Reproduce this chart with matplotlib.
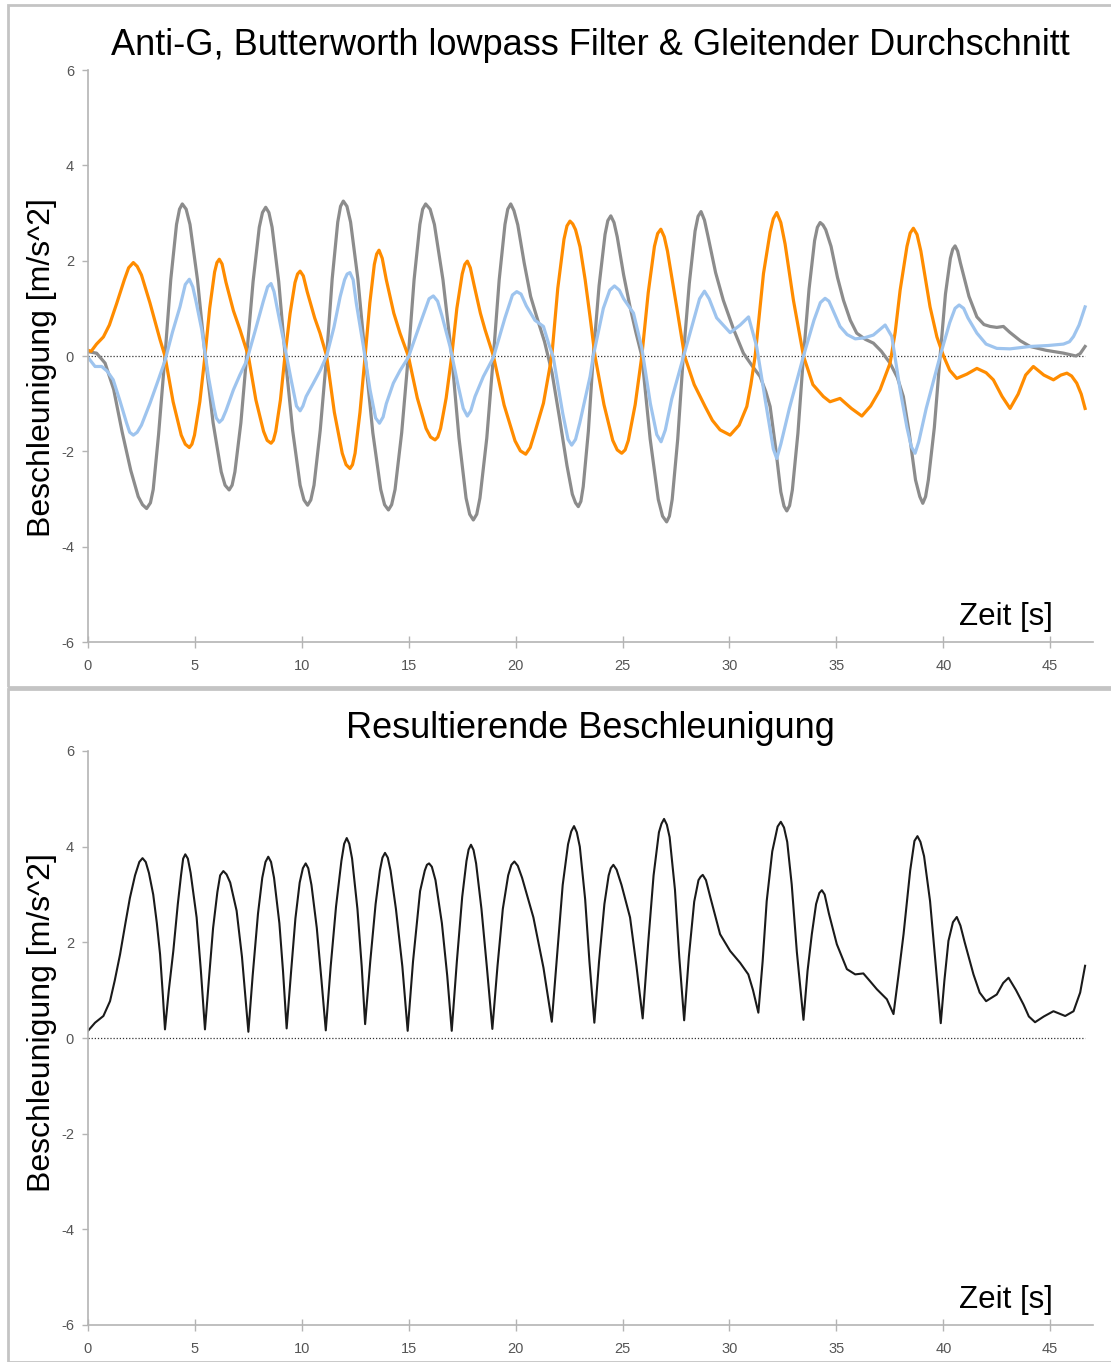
import matplotlib
matplotlib.use('Agg')
import matplotlib.pyplot as plt
from matplotlib.patches import Rectangle

plt.rcParams['font.family'] = ['Liberation Sans', 'DejaVu Sans']
plt.rcParams['axes.unicode_minus'] = False

# (time [s], acceleration [m/s^2])
grey = [(0.0, 0.09), (0.4, 0.06), (0.8, -0.15), (1.2, -0.7), (1.6, -1.6), (2.0, -2.4), (2.35, -2.95),
        (2.55, -3.12), (2.74, -3.2), (2.92, -3.08), (3.05, -2.8), (3.3, -1.65), (3.6, 0.0), (3.87, 1.6),
        (4.14, 2.76), (4.28, 3.08), (4.41, 3.19), (4.59, 3.08), (4.77, 2.76), (5.12, 1.6), (5.48, 0.0),
        (5.85, -1.4), (6.23, -2.43), (6.41, -2.71), (6.6, -2.81), (6.74, -2.71), (6.87, -2.43),
        (7.15, -1.4), (7.42, 0.0), (7.72, 1.56), (8.01, 2.7), (8.16, 3.01), (8.31, 3.12), (8.46, 3.01),
        (8.61, 2.7), (8.92, 1.56), (9.22, 0.0), (9.57, -1.56), (9.92, -2.71), (10.1, -3.02),
        (10.27, -3.13), (10.42, -3.02), (10.57, -2.71), (10.86, -1.56), (11.16, 0.0), (11.42, 1.62),
        (11.68, 2.81), (11.81, 3.14), (11.94, 3.25), (12.11, 3.14), (12.28, 2.81), (12.62, 1.62),
        (12.96, 0.0), (13.32, -1.61), (13.69, -2.8), (13.87, -3.12), (14.05, -3.23), (14.2, -3.12),
        (14.36, -2.8), (14.67, -1.61), (14.98, 0.0), (15.25, 1.6), (15.52, 2.76), (15.65, 3.08),
        (15.79, 3.19), (16.0, 3.08), (16.2, 2.76), (16.6, 1.6), (17.01, 0.0), (17.35, -1.72),
        (17.68, -2.98), (17.85, -3.32), (18.02, -3.44), (18.18, -3.32), (18.33, -2.98), (18.65, -1.72),
        (18.96, 0.0), (19.23, 1.6), (19.5, 2.76), (19.63, 3.08), (19.77, 3.19), (19.92, 3.05),
        (20.1, 2.75), (20.4, 1.95), (20.7, 1.25), (21.0, 0.8), (21.35, 0.3), (21.7, -0.35),
        (22.05, -1.3), (22.4, -2.3), (22.65, -2.9), (22.8, -3.08), (22.93, -3.16), (23.05, -3.05),
        (23.16, -2.74), (23.4, -1.58), (23.63, 0.0), (23.9, 1.47), (24.18, 2.55), (24.31, 2.84),
        (24.45, 2.94), (24.6, 2.8), (24.75, 2.5), (25.05, 1.7), (25.35, 1.03), (25.62, 0.5), (25.9, 0.0),
        (26.29, -1.74), (26.67, -3.01), (26.87, -3.36), (27.06, -3.48), (27.19, -3.36), (27.32, -3.01),
        (27.58, -1.74), (27.84, 0.0), (28.12, 1.52), (28.39, 2.62), (28.53, 2.93), (28.67, 3.03),
        (28.83, 2.85), (29.0, 2.5), (29.35, 1.75), (29.71, 1.17), (30.2, 0.55), (30.65, 0.06),
        (31.05, -0.2), (31.43, -0.43), (31.7, -0.75), (31.9, -1.06), (32.15, -1.9), (32.4, -2.85),
        (32.55, -3.15), (32.68, -3.25), (32.81, -3.14), (32.94, -2.81), (33.2, -1.62), (33.46, 0.0),
        (33.72, 1.4), (33.98, 2.42), (34.11, 2.7), (34.24, 2.8), (34.37, 2.75), (34.5, 2.65),
        (34.75, 2.3), (35.05, 1.65), (35.33, 1.17), (35.65, 0.75), (35.95, 0.48), (36.35, 0.35),
        (36.73, 0.27), (37.1, 0.1), (37.51, -0.15), (37.85, -0.45), (38.13, -0.85), (38.4, -1.6),
        (38.7, -2.6), (38.9, -2.95), (39.04, -3.09), (39.17, -2.95), (39.3, -2.6), (39.58, -1.5),
        (39.85, 0.0), (40.1, 1.3), (40.33, 2.05), (40.44, 2.24), (40.55, 2.31), (40.67, 2.2),
        (40.8, 1.95), (41.2, 1.25), (41.57, 0.82), (41.9, 0.66), (42.19, 0.62), (42.5, 0.6),
        (42.81, 0.62), (43.1, 0.5), (43.6, 0.32), (44.06, 0.2), (44.8, 0.12), (45.62, 0.06),
        (46.2, 0.0), (46.4, 0.05), (46.63, 0.2)]

orange = [(0.0, 0.12), (0.15, 0.1), (0.4, 0.25), (0.72, 0.4), (1.0, 0.65), (1.34, 1.1), (1.7, 1.6),
          (1.9, 1.85), (2.12, 1.96), (2.3, 1.88), (2.5, 1.7), (2.9, 1.11), (3.37, 0.34), (3.6, 0.0),
          (3.98, -0.96), (4.36, -1.66), (4.55, -1.85), (4.74, -1.92), (4.86, -1.85), (4.98, -1.66),
          (5.23, -0.96), (5.47, 0.0), (5.69, 1.0), (5.92, 1.76), (6.03, 1.96), (6.14, 2.03), (6.27, 1.93),
          (6.45, 1.55), (6.8, 0.95), (7.11, 0.55), (7.5, 0.0), (7.85, -0.92), (8.21, -1.58), (8.38, -1.77),
          (8.56, -1.83), (8.67, -1.77), (8.78, -1.58), (9.0, -0.92), (9.21, 0.0), (9.45, 0.89),
          (9.68, 1.54), (9.8, 1.72), (9.92, 1.78), (10.07, 1.68), (10.25, 1.35), (10.6, 0.8),
          (10.85, 0.48), (11.16, 0.0), (11.52, -1.18), (11.89, -2.04), (12.07, -2.28), (12.25, -2.36),
          (12.37, -2.28), (12.49, -2.04), (12.72, -1.18), (12.96, 0.0), (13.18, 1.11), (13.39, 1.92),
          (13.5, 2.14), (13.61, 2.22), (13.76, 2.05), (13.95, 1.6), (14.3, 0.9), (14.59, 0.48),
          (14.98, 0.0), (15.4, -0.88), (15.81, -1.52), (16.02, -1.7), (16.23, -1.76), (16.36, -1.7),
          (16.49, -1.52), (16.75, -0.88), (17.01, 0.0), (17.25, 1.0), (17.5, 1.72), (17.62, 1.92),
          (17.74, 1.99), (17.88, 1.85), (18.05, 1.5), (18.35, 0.9), (18.57, 0.55), (18.96, 0.0),
          (19.46, -1.03), (19.97, -1.78), (20.22, -1.99), (20.47, -2.06), (20.68, -1.92), (20.9, -1.6),
          (21.3, -0.99), (21.69, 0.0), (21.97, 1.42), (22.26, 2.45), (22.4, 2.73), (22.54, 2.83),
          (22.67, 2.77), (22.8, 2.65), (23.01, 2.29), (23.25, 1.6), (23.48, 0.82), (23.71, 0.0),
          (24.13, -1.02), (24.54, -1.77), (24.75, -1.97), (24.96, -2.04), (25.12, -1.97), (25.27, -1.77),
          (25.59, -1.02), (25.9, 0.0), (26.2, 1.33), (26.49, 2.3), (26.64, 2.57), (26.79, 2.66),
          (26.95, 2.5), (27.1, 2.2), (27.53, 1.03), (27.9, 0.0), (28.35, -0.6), (28.86, -1.06),
          (29.2, -1.35), (29.56, -1.55), (30.03, -1.66), (30.45, -1.45), (30.81, -1.06), (31.0, -0.6),
          (31.2, 0.0), (31.59, 1.73), (31.9, 2.6), (32.05, 2.88), (32.21, 3.01), (32.4, 2.8),
          (32.6, 2.35), (32.99, 1.17), (33.46, 0.0), (33.9, -0.6), (34.39, -0.85), (34.7, -0.96),
          (35.17, -0.89), (35.7, -1.1), (36.19, -1.26), (36.6, -1.05), (37.04, -0.71), (37.51, -0.15),
          (37.75, 0.5), (37.98, 1.38), (38.3, 2.3), (38.45, 2.58), (38.6, 2.68), (38.77, 2.55),
          (38.95, 2.2), (39.38, 1.03), (39.7, 0.4), (40.01, 0.0), (40.3, -0.3), (40.63, -0.47),
          (41.1, -0.38), (41.57, -0.26), (42.0, -0.35), (42.34, -0.5), (42.75, -0.85), (43.12, -1.1),
          (43.5, -0.8), (43.85, -0.4), (44.21, -0.22), (44.7, -0.4), (45.15, -0.5), (45.5, -0.4),
          (45.78, -0.36), (46.0, -0.42), (46.24, -0.57), (46.45, -0.8), (46.63, -1.1)]

blue = [(0.0, -0.03), (0.33, -0.22), (0.64, -0.22), (0.9, -0.32), (1.18, -0.5), (1.5, -0.95), (1.8, -1.4),
        (1.95, -1.6), (2.12, -1.66), (2.3, -1.6), (2.5, -1.45), (2.9, -0.99), (3.25, -0.55), (3.6, -0.1),
        (3.95, 0.5), (4.3, 1.03), (4.55, 1.5), (4.74, 1.61), (4.9, 1.45), (5.05, 1.15), (5.32, 0.55),
        (5.63, -0.43), (5.9, -1.1), (6.0, -1.3), (6.14, -1.39), (6.28, -1.33), (6.45, -1.15),
        (6.8, -0.71), (7.1, -0.4), (7.42, -0.1), (7.8, 0.5), (8.2, 1.15), (8.4, 1.45), (8.56, 1.52),
        (8.7, 1.35), (8.85, 1.0), (9.14, 0.34), (9.5, -0.5), (9.75, -1.05), (9.92, -1.15), (10.05, -1.05),
        (10.2, -0.85), (10.54, -0.57), (10.86, -0.3), (11.16, 0.0), (11.5, 0.6), (11.79, 1.24),
        (12.0, 1.6), (12.12, 1.72), (12.25, 1.75), (12.4, 1.6), (12.55, 1.1), (12.88, 0.2),
        (13.19, -0.71), (13.45, -1.3), (13.63, -1.41), (13.8, -1.28), (13.95, -1.0), (14.28, -0.57),
        (14.6, -0.3), (14.98, -0.03), (15.55, 0.7), (15.95, 1.2), (16.15, 1.26), (16.35, 1.15),
        (16.55, 0.85), (16.93, 0.2), (17.3, -0.6), (17.55, -1.1), (17.74, -1.26), (17.9, -1.15),
        (18.1, -0.85), (18.49, -0.43), (18.96, -0.03), (19.5, 0.8), (19.85, 1.28), (20.05, 1.35),
        (20.25, 1.3), (20.5, 1.05), (20.9, 0.75), (21.3, 0.62), (21.55, 0.25), (21.76, -0.03),
        (22.2, -1.2), (22.45, -1.75), (22.62, -1.87), (22.8, -1.75), (23.0, -1.4), (23.48, -0.43),
        (23.63, 0.0), (24.1, 1.0), (24.4, 1.38), (24.62, 1.47), (24.85, 1.38), (25.05, 1.2),
        (25.51, 0.9), (25.9, 0.17), (26.3, -1.0), (26.6, -1.65), (26.8, -1.8), (27.0, -1.55),
        (27.3, -0.9), (27.84, -0.03), (28.35, 0.8), (28.6, 1.2), (28.83, 1.36), (29.05, 1.2),
        (29.4, 0.8), (30.03, 0.49), (30.5, 0.65), (30.89, 0.82), (31.27, 0.2), (31.7, -1.0),
        (32.05, -1.95), (32.21, -2.15), (32.4, -1.85), (32.8, -1.1), (33.46, 0.0), (33.95, 0.75),
        (34.25, 1.12), (34.47, 1.21), (34.65, 1.15), (34.8, 1.0), (35.17, 0.62), (35.5, 0.45),
        (35.88, 0.36), (36.3, 0.38), (36.73, 0.44), (37.28, 0.65), (37.59, 0.41), (37.98, -0.71),
        (38.3, -1.5), (38.5, -1.9), (38.68, -2.04), (38.85, -1.8), (39.2, -1.1), (39.85, 0.0),
        (40.3, 0.7), (40.55, 1.0), (40.74, 1.07), (40.95, 1.0), (41.15, 0.8), (41.57, 0.48),
        (42.0, 0.25), (42.5, 0.16), (43.12, 0.15), (44.06, 0.2), (44.9, 0.22), (45.62, 0.25),
        (45.9, 0.3), (46.09, 0.41), (46.35, 0.65), (46.63, 1.03)]

resultant = [(0.0, 0.15), (0.33, 0.32), (0.72, 0.46), (1.03, 0.77), (1.25, 1.2), (1.5, 1.75), (1.75, 2.4),
             (1.96, 2.93), (2.2, 3.4), (2.4, 3.68), (2.55, 3.76), (2.7, 3.68), (2.85, 3.45), (3.05, 3.0),
             (3.22, 2.4), (3.37, 1.75), (3.5, 0.9), (3.6, 0.18), (3.78, 1.0), (3.99, 1.82), (4.2, 2.8),
             (4.35, 3.4), (4.45, 3.75), (4.55, 3.84), (4.67, 3.75), (4.8, 3.45), (5.08, 2.52), (5.28, 1.4),
             (5.47, 0.18), (5.65, 1.2), (5.85, 2.3), (6.05, 3.05), (6.18, 3.4), (6.33, 3.49), (6.48, 3.42),
             (6.65, 3.25), (6.95, 2.66), (7.2, 1.7), (7.5, 0.13), (7.7, 1.3), (7.95, 2.6), (8.15, 3.35),
             (8.3, 3.68), (8.43, 3.79), (8.56, 3.68), (8.7, 3.35), (8.95, 2.4), (9.12, 1.4), (9.29, 0.2),
             (9.5, 1.4), (9.7, 2.5), (9.9, 3.25), (10.05, 3.55), (10.18, 3.65), (10.3, 3.55), (10.45, 3.2),
             (10.7, 2.3), (10.92, 1.2), (11.12, 0.16), (11.35, 1.5), (11.6, 2.75), (11.85, 3.7),
             (11.98, 4.06), (12.1, 4.18), (12.22, 4.06), (12.35, 3.75), (12.6, 2.7), (12.8, 1.5),
             (12.96, 0.29), (13.2, 1.6), (13.45, 2.8), (13.65, 3.5), (13.77, 3.77), (13.89, 3.87),
             (14.02, 3.77), (14.15, 3.5), (14.4, 2.7), (14.7, 1.5), (14.95, 0.15), (15.2, 1.6),
             (15.53, 3.07), (15.75, 3.5), (15.85, 3.62), (15.95, 3.65), (16.08, 3.58), (16.25, 3.3),
             (16.55, 2.4), (16.8, 1.3), (17.01, 0.15), (17.25, 1.6), (17.5, 2.95), (17.7, 3.7),
             (17.8, 3.94), (17.91, 4.04), (18.03, 3.93), (18.15, 3.65), (18.4, 2.7), (18.65, 1.5),
             (18.91, 0.19), (19.15, 1.5), (19.4, 2.7), (19.65, 3.4), (19.8, 3.62), (19.94, 3.69),
             (20.1, 3.6), (20.3, 3.35), (20.83, 2.52), (21.3, 1.47), (21.69, 0.34), (21.95, 1.8),
             (22.2, 3.2), (22.45, 4.05), (22.6, 4.32), (22.73, 4.43), (22.86, 4.3), (23.0, 4.0),
             (23.25, 2.9), (23.45, 1.6), (23.68, 0.32), (23.9, 1.6), (24.15, 2.8), (24.35, 3.4),
             (24.45, 3.55), (24.57, 3.62), (24.72, 3.52), (24.95, 3.2), (25.35, 2.52), (25.65, 1.5),
             (25.94, 0.41), (26.2, 2.0), (26.45, 3.4), (26.7, 4.3), (26.82, 4.48), (26.94, 4.58),
             (27.07, 4.46), (27.2, 4.2), (27.45, 3.1), (27.65, 1.7), (27.88, 0.37), (28.1, 1.7),
             (28.35, 2.85), (28.55, 3.3), (28.65, 3.37), (28.75, 3.41), (28.9, 3.3), (29.1, 2.95),
             (29.56, 2.17), (30.03, 1.82), (30.5, 1.57), (30.88, 1.33), (31.1, 1.0), (31.35, 0.53),
             (31.55, 1.6), (31.74, 2.86), (32.0, 3.9), (32.25, 4.42), (32.4, 4.52), (32.55, 4.4),
             (32.7, 4.1), (32.91, 3.21), (33.15, 1.8), (33.46, 0.38), (33.65, 1.4), (33.85, 2.17),
             (34.05, 2.8), (34.2, 3.03), (34.32, 3.09), (34.45, 3.0), (34.65, 2.6), (35.02, 1.96),
             (35.49, 1.44), (35.88, 1.33), (36.26, 1.35), (36.55, 1.2), (36.89, 1.02), (37.36, 0.81),
             (37.67, 0.5), (37.9, 1.3), (38.14, 2.17), (38.45, 3.5), (38.65, 4.12), (38.79, 4.22),
             (38.93, 4.1), (39.1, 3.8), (39.38, 2.86), (39.65, 1.5), (39.88, 0.31), (40.05, 1.2),
             (40.24, 2.03), (40.45, 2.42), (40.63, 2.53), (40.8, 2.35), (41.0, 2.0), (41.41, 1.33),
             (41.7, 0.95), (42.0, 0.77), (42.5, 0.91), (42.8, 1.15), (43.05, 1.26), (43.4, 1.0),
             (43.75, 0.7), (44.0, 0.45), (44.29, 0.33), (44.7, 0.45), (45.15, 0.56), (45.7, 0.46),
             (46.09, 0.56), (46.4, 0.95), (46.63, 1.51)]

yticks = [-6, -4, -2, 0, 2, 4, 6]
xticks = [0, 5, 10, 15, 20, 25, 30, 35, 40, 45]
title_top = 'Anti-G, Butterworth lowpass Filter & Gleitender Durchschnitt'
title_bot = 'Resultierende Beschleunigung'
ylabel = 'Beschleunigung [m/s^2]'
xlabel = 'Zeit [s]'

fig = plt.figure(figsize=(11.11, 13.62), dpi=100)

# panel frames
for y0, h in [(1 - 687 / 1362, 682 / 1362), (0.0, 673 / 1362)]:
    fig.patches.append(Rectangle((8 / 1111, y0), 1.0, h, transform=fig.transFigure,
                                 fill=False, edgecolor='#c4c4c4', lw=2.0))

ax1 = fig.add_axes([88 / 1111, 1 - 642 / 1362, 1005 / 1111, 572 / 1362])
ax2 = fig.add_axes([88 / 1111, 1 - 1325 / 1362, 1005 / 1111, 574 / 1362])


def style_axes(ax, title, label_y, title_pad):
    ax.set_xlim(0, 47.0)
    ax.set_ylim(-6, 6)
    for s in ['top', 'right']:
        ax.spines[s].set_visible(False)
    for s in ['left', 'bottom']:
        ax.spines[s].set_color('#b4b4b4')
        ax.spines[s].set_linewidth(1.2)
    ax.set_yticks(yticks)
    ax.set_xticks(xticks)
    ax.tick_params(axis='y', direction='out', length=4, width=1.0, color='#b4b4b4',
                   labelcolor='#555555', labelsize=10.5, pad=6)
    ax.tick_params(axis='x', direction='inout', length=9, width=1.0, color='#b4b4b4',
                   labelcolor='#555555', labelsize=10.5, pad=8)
    ax.set_title(title, fontsize=26, pad=title_pad)
    ax.set_ylabel(ylabel, fontsize=23)
    ax.yaxis.set_label_coords(-0.031, label_y)
    ax.text(0.96, 0.044, xlabel, transform=ax.transAxes, ha='right', va='center', fontsize=22.5)
    ax.hlines(0, 0, 46.63, colors='#333333', linestyles=(0, (1, 1.5)), lw=0.9)


style_axes(ax1, title_top, 0.479, 11)
for series, col in [(grey, '#8c8c8c'), (orange, '#ff8c00'), (blue, '#9ec4ee')]:
    t, v = zip(*series)
    ax1.plot(t, v, color=col, lw=2.3, solid_joinstyle='round')

style_axes(ax2, title_bot, 0.527, 9)
t, v = zip(*resultant)
ax2.plot(t, v, color='#1a1a1a', lw=1.5, solid_joinstyle='round')

fig.savefig('out.png', dpi=100)
